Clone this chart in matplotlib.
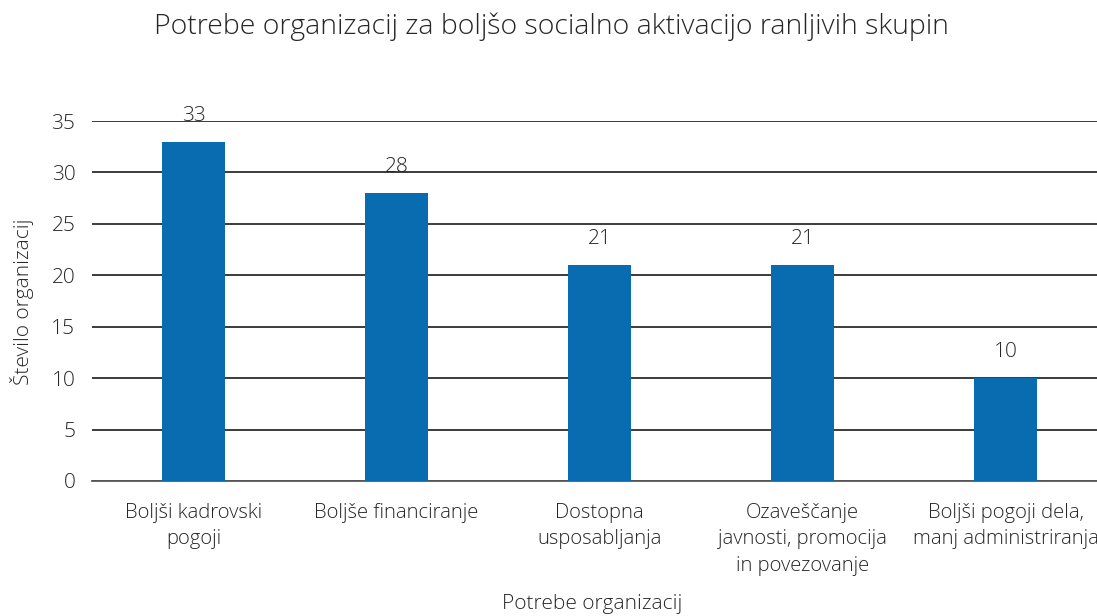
import matplotlib
matplotlib.use("Agg")
import matplotlib.pyplot as plt

categories = ["Boljši kadrovski\npogoji", "Boljše financiranje", "Dostopna\nusposabljanja",
              "Ozaveščanje\njavnosti, promocija\nin povezovanje", "Boljši pogoji dela,\nmanj administriranja"]
values = [33, 28, 21, 21, 10]
yticks = [0, 5, 10, 15, 20, 25, 30, 35]

plt.rcParams['font.family'] = ['Open Sans', 'DejaVu Sans']
txt = '#262626'
fw = 'light'
W, H = 1097, 616
fig = plt.figure(figsize=(W/100, H/100), dpi=100)
left, right = 92/W, 1107/W
bottom, top = 1-481/H, 1-121/H
ax = fig.add_axes([left, bottom, right-left, top-bottom])
x = list(range(len(categories)))
bars = ax.bar(x, values, width=0.315, color='#0a6cb0', zorder=3)
ax.set_xlim(-0.5, len(categories)-0.5)
ax.set_ylim(0, 35)
ax.set_yticks(yticks)
ax.set_yticklabels([str(t) for t in yticks], fontsize=15, color=txt, fontweight=fw)
ax.set_xticks(x)
ax.set_xticklabels(categories, fontsize=14.6, color=txt, fontweight=fw, linespacing=1.45)
ax.tick_params(axis='both', length=0)
ax.tick_params(axis='x', pad=15.5)
ax.tick_params(axis='y', pad=12)
for s in ['top', 'right', 'left']:
    ax.spines[s].set_visible(False)
ax.spines['bottom'].set_color('#595959')
ax.spines['bottom'].set_linewidth(1.3)
ax.yaxis.grid(True, color='#1a1a1a', linewidth=1.2, zorder=0)
ax.set_axisbelow(True)
for b, v in zip(bars, values):
    ax.annotate(str(v), (b.get_x()+b.get_width()/2, v), xytext=(0, 11.5), textcoords='offset points',
                ha='center', va='bottom', fontsize=15, color=txt, fontweight=fw)
fig.text(551/W, 1-27/H, "Potrebe organizacij za boljšo socialno aktivacijo ranljivih skupin",
         ha='center', va='center', fontsize=20.5, color=txt, fontweight=fw)
fig.text(22/W, 1-302/H, "Število organizacij", rotation=90, ha='center', va='center',
         fontsize=15, color=txt, fontweight=fw)
fig.text(592/W, 1-604/H, "Potrebe organizacij", ha='center', va='center',
         fontsize=15, color=txt, fontweight=fw)
fig.savefig("out.png", dpi=100)
